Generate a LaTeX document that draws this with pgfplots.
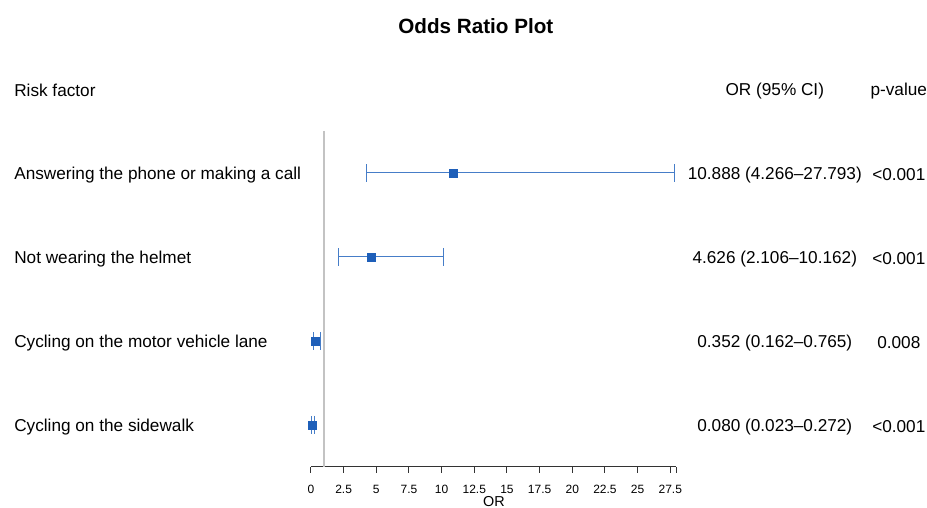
\documentclass[border=0pt]{standalone}
\usepackage{pgfplots}
\pgfplotsset{compat=1.18}
\usepackage{pgfplotstable}
\usepackage{fontspec}
\setmainfont{Liberation Sans}
\definecolor{barblue}{RGB}{70,125,200}
\definecolor{markblue}{RGB}{30,95,185}
\definecolor{refgray}{RGB}{195,195,195}
\pgfplotstableread{
row or em ep
1 10.888 6.622 16.905
2 4.626 2.520 5.536
3 0.352 0.190 0.413
4 0.080 0.057 0.192
}\ordata
\begin{document}
\begin{tikzpicture}
\begin{axis}[
  x=9.8025pt, y=63pt, y dir=reverse,
  xmin=0, xmax=27.95, ymin=0.5, ymax=4.5,
  enlargelimits=false,
  clip=false,
  axis x line*=bottom, axis y line=none,
  axis line style={black!80, line width=0.7pt},
  xtick={0,2.5,5,7.5,10,12.5,15,17.5,20,22.5,25,27.5,27.95},
  xticklabels={0,2.5,5,7.5,10,12.5,15,17.5,20,22.5,25,27.5,{}},
  tick align=outside, major tick length=4.5pt,
  xtick style={black!80, line width=0.7pt},
  /pgf/number format/assume math mode=true,
  xticklabel style={font=\fontsize{9}{10}\selectfont, yshift=-5.5pt},
  ytick=\empty,
]
\addplot[refgray, line width=1.2pt] coordinates {(1,0.5) (1,4.5)};
\addplot[only marks, mark=square*, mark size=3.1pt, color=markblue,
  error bars/.cd, x dir=both, x explicit, error mark=|,
  error bar style={barblue, line width=0.8pt},
  error mark options={barblue, mark size=6.75pt, line width=0.8pt}]
  table[x=or, y=row, x error plus=ep, x error minus=em] {\ordata};

\path (axis cs:-23.795,-1.0595) rectangle (axis cs:47.13,4.988);

\node[font=\bfseries\fontsize{15.5}{18}\selectfont] at (axis cs:12.62,-0.75) {Odds Ratio Plot};
\begin{scope}[every node/.style={font=\fontsize{12.9}{15}\selectfont, inner sep=0pt}]
\node[anchor=west] at (axis cs:-22.72,0.02) {Risk factor};
\node at (axis cs:35.5,0.02) {OR (95\% CI)};
\node at (axis cs:44.99,0.02) {p-value};
\node[anchor=west] at (axis cs:-22.72,1.025) {Answering the phone or making a call};
\node[anchor=west] at (axis cs:-22.72,2.025) {Not wearing the helmet};
\node[anchor=west] at (axis cs:-22.72,3.025) {Cycling on the motor vehicle lane};
\node[anchor=west] at (axis cs:-22.72,4.025) {Cycling on the sidewalk};
\node at (axis cs:35.5,1.025) {10.888 (4.266–27.793)};
\node at (axis cs:35.5,2.025) {4.626 (2.106–10.162)};
\node at (axis cs:35.5,3.025) {0.352 (0.162–0.765)};
\node at (axis cs:35.5,4.025) {0.080 (0.023–0.272)};
\node at (axis cs:44.99,1.025) {<0.001};
\node at (axis cs:44.99,2.025) {<0.001};
\node at (axis cs:44.99,3.025) {0.008};
\node at (axis cs:44.99,4.025) {<0.001};
\end{scope}
\node[font=\fontsize{10.8}{12}\selectfont, inner sep=0pt] at (axis cs:14.0,4.915) {OR};
\end{axis}
\end{tikzpicture}
\end{document}
